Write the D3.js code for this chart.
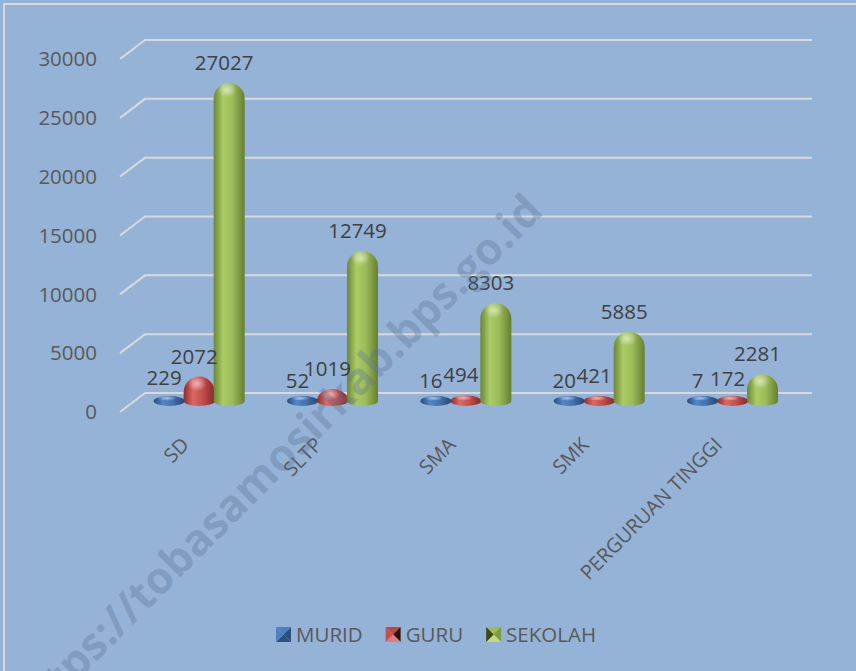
<!DOCTYPE html>
<html>
<head>
<meta charset="utf-8">
<script src="https://cdn.jsdelivr.net/npm/d3@7"></script>
<style>
  html, body { margin: 0; padding: 0; background: #95b3d7; }
  svg { display: block; font-family: "Open Sans", sans-serif; }
</style>
</head>
<body>
<svg id="chart" width="856" height="671"></svg>
<script>
// data
var categories = ["SD", "SLTP", "SMA", "SMK", "PERGURUAN TINGGI"];
var seriesNames = ["MURID", "GURU", "SEKOLAH"];
var murid = [229, 52, 16, 20, 7];
var guru = [2072, 1019, 494, 421, 172];
var sekolah = [27027, 12749, 8303, 5885, 2281];
var yTicks = [0, 5000, 10000, 15000, 20000, 25000, 30000];

var seriesValues = [murid, guru, sekolah];

// colours: [dark edge, light, mid, dark edge]
var barColors = {
  MURID:   ["#284a78", "#5286c6", "#4374b2", "#274670"],
  GURU:    ["#8c2c2a", "#dc6664", "#c4504d", "#862927"],
  SEKOLAH: ["#6a8734", "#abcb65", "#9cbc5a", "#657f30"]
};
var legendColors = {
  MURID:   { top: "#4c80bf", left: "#4c80bf", right: "#2d4f7b", bottom: "#2d4f7b" },
  GURU:    { top: "#b54b48", left: "#c4514e", right: "#2b1211", bottom: "#e07d79" },
  SEKOLAH: { top: "#9cbc5a", left: "#3b4a1d", right: "#7d9c3d", bottom: "#c3da85" }
};

var svg = d3.select("#chart");
var W = 856, H = 671;

svg.append("rect").attr("width", W).attr("height", H).attr("fill", "#95b3d7");

// frame lines (top / left)
svg.append("path")
  .attr("d", "M4," + H + " L4,4 L" + W + ",4")
  .attr("fill", "none")
  .attr("stroke", "#d9d9d9")
  .attr("stroke-width", 2);

///////////////////////////////////////////////////////////////////////////////
// Scales

var y = d3.scaleLinear().domain([0, 30000]).range([393, 40]);   // back wall
var depth = { dx: -25, dy: 19 };   // back wall -> front edge
var barDy = 8;                      // bars sit part way into the floor
var wallLeft = 145, wallRight = 812;

var x = d3.scaleBand().domain(categories).range([132.5, 799.2]);
var xs = d3.scaleBand().domain(seriesNames).range([-45, 45]);

var catCenter = function (c) { return x(c) + x.bandwidth() / 2; };
var barCenter = function (c, s) { return catCenter(c) + xs(s) + xs.bandwidth() / 2; };

///////////////////////////////////////////////////////////////////////////////
// Gradients

var defs = svg.append("defs");
seriesNames.forEach(function (s) {
  var g = defs.append("linearGradient")
    .attr("id", "grad_" + s)
    .attr("x1", 0).attr("x2", 1).attr("y1", 0).attr("y2", 0);
  var c = barColors[s];
  [[0, c[0]], [0.3, c[1]], [0.6, c[2]], [1, c[3]]].forEach(function (st) {
    g.append("stop").attr("offset", st[0]).attr("stop-color", st[1]);
  });
});
var hl = defs.append("radialGradient").attr("id", "highlight");
hl.append("stop").attr("offset", 0).attr("stop-color", "#ffffff").attr("stop-opacity", 0.55);
hl.append("stop").attr("offset", 1).attr("stop-color", "#ffffff").attr("stop-opacity", 0);

///////////////////////////////////////////////////////////////////////////////
// Gridlines + y axis labels

var grid = svg.append("g").attr("class", "grid");
grid.selectAll("path")
  .data(yTicks)
  .enter().append("path")
  .attr("d", function (t) {
    var yb = y(t);
    return "M" + (wallLeft + depth.dx) + "," + (yb + depth.dy) +
      " L" + wallLeft + "," + yb + " L" + wallRight + "," + yb;
  })
  .attr("fill", "none")
  .attr("stroke", "#d9d9d9")
  .attr("stroke-width", 2);

svg.append("g").selectAll("text")
  .data(yTicks)
  .enter().append("text")
  .attr("x", 97)
  .attr("y", function (t) { return y(t) + depth.dy; })
  .attr("dy", "0.35em")
  .attr("text-anchor", "end")
  .attr("fill", "#595959")
  .style("font-size", "20.5px")
  .text(function (t) { return t; });

///////////////////////////////////////////////////////////////////////////////
// Cylinders

var cylinder = function (cx, base, top, r, rb) {
  var yt = Math.min(top, base - rb);
  var rt = Math.min(r, Math.max(rb, base - top));
  return "M" + (cx - r) + "," + base +
    " L" + (cx - r) + "," + (yt + rt) +
    " A" + r + " " + rt + " 0 0 1 " + (cx + r) + "," + (yt + rt) +
    " L" + (cx + r) + "," + base +
    " A" + r + " " + rb + " 0 0 1 " + (cx - r) + "," + base + " Z";
};

var bars = [];
categories.forEach(function (c, i) {
  seriesNames.forEach(function (s, j) {
    bars.push({ cat: c, series: s, value: seriesValues[j][i] });
  });
});

var base = y(0) + barDy;
var R = 15.5, RB = 5;

var barG = svg.append("g").attr("class", "bars");
var groups = barG.selectAll("g")
  .data(bars)
  .enter().append("g");

groups.append("path")
  .attr("d", function (d) {
    return cylinder(barCenter(d.cat, d.series), base, y(d.value) + barDy, R, RB);
  })
  .attr("fill", function (d) { return "url(#grad_" + d.series + ")"; });

groups.append("ellipse")
  .attr("cx", function (d) { return barCenter(d.cat, d.series) - 2; })
  .attr("cy", function (d) {
    var top = Math.min(y(d.value) + barDy, base - RB);
    var rt = Math.min(R, Math.max(RB, base - (y(d.value) + barDy)));
    return top + rt * 0.45;
  })
  .attr("rx", R * 0.6)
  .attr("ry", function (d) {
    return Math.min(R, Math.max(RB, base - (y(d.value) + barDy))) * 0.5;
  })
  .attr("fill", "url(#highlight)");

// data labels
svg.append("g").selectAll("text")
  .data(bars)
  .enter().append("text")
  .attr("x", function (d) { return barCenter(d.cat, d.series) - 5; })
  .attr("y", function (d) { return y(d.value) + barDy - 20; })
  .attr("dy", "0.35em")
  .attr("text-anchor", "middle")
  .attr("fill", "#404040")
  .style("font-size", "20.5px")
  .text(function (d) { return d.value; });

///////////////////////////////////////////////////////////////////////////////
// Category labels (rotated)

svg.append("g").selectAll("text")
  .data(categories)
  .enter().append("text")
  .attr("transform", function (c) {
    return "translate(" + (catCenter(c) - 9) + ",446) rotate(-45)";
  })
  .attr("text-anchor", "end")
  .attr("fill", "#595959")
  .style("font-size", "20px")
  .text(function (c) { return c; });

///////////////////////////////////////////////////////////////////////////////
// Legend

var legend = svg.append("g").attr("class", "legend");
var lx = 276, ly = 627, sz = 15;
seriesNames.forEach(function (s) {
  var c = legendColors[s];
  var g = legend.append("g").attr("transform", "translate(" + lx + "," + ly + ")");
  var m = sz / 2;
  var tris = [
    ["M0,0 L" + sz + ",0 L" + m + "," + m + " Z", c.top],
    ["M" + sz + ",0 L" + sz + "," + sz + " L" + m + "," + m + " Z", c.right],
    ["M0," + sz + " L" + sz + "," + sz + " L" + m + "," + m + " Z", c.bottom],
    ["M0,0 L0," + sz + " L" + m + "," + m + " Z", c.left]
  ];
  tris.forEach(function (t) {
    g.append("path").attr("d", t[0]).attr("fill", t[1]);
  });
  var label = g.append("text")
    .attr("x", sz + 5)
    .attr("y", m)
    .attr("dy", "0.35em")
    .attr("fill", "#595959")
    .style("font-size", "20.5px")
    .text(s);
  lx += sz + 5 + label.node().getComputedTextLength() + 23;
});

///////////////////////////////////////////////////////////////////////////////
// Watermark

svg.append("text")
  .attr("transform", "translate(545,213) rotate(-45)")
  .attr("text-anchor", "end")
  .attr("fill", "#5a7396")
  .attr("fill-opacity", 0.35)
  .style("font-size", "44px")
  .style("font-weight", "bold")
  .text("https://tobasamosirkab.bps.go.id");
</script>
</body>
</html>
